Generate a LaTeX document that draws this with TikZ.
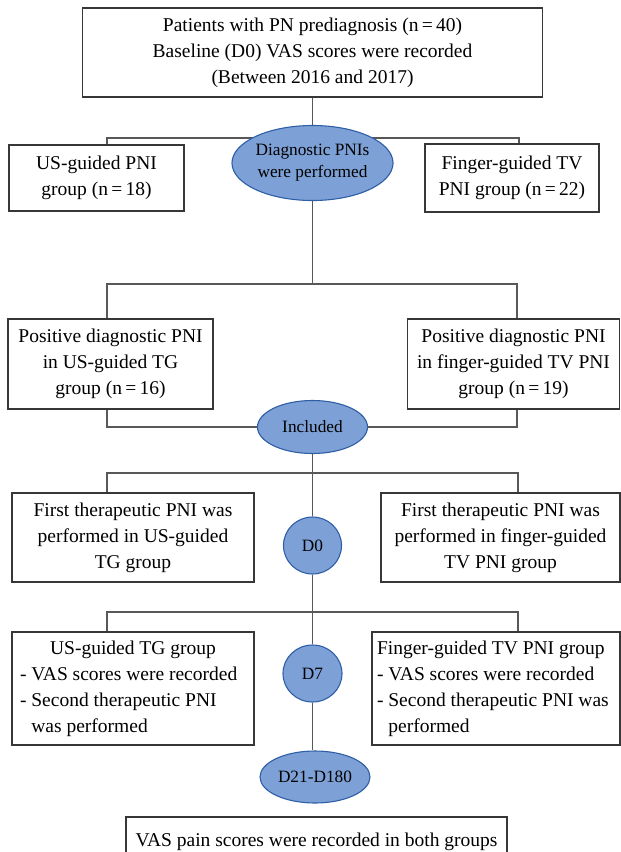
\documentclass[tikz,border=0pt]{standalone}
\usepackage{fontspec}
\setmainfont{Liberation Serif}
\usepackage{tikz}
\usetikzlibrary{shapes.geometric, positioning, backgrounds}

\definecolor{ovalfill}{RGB}{125,161,214}
\definecolor{ovaldraw}{RGB}{46,94,166}
\definecolor{linkgray}{RGB}{88,88,88}
\definecolor{boxgray}{RGB}{55,55,55}

\begin{document}
\begin{tikzpicture}[x=1pt, y=-1pt,
    box/.style={draw=boxgray, line width=1.1pt, fill=white, align=center, inner sep=0pt,
        font=\fontsize{19.5}{26}\selectfont},
    oval/.style={ellipse, draw=ovaldraw, line width=1.1pt, fill=ovalfill, align=center, inner sep=0pt,
        font=\fontsize{17.3}{22}\selectfont},
    link/.style={draw=linkgray, line width=1.1pt}]
    \useasboundingbox (0,0) rectangle (621,852);

    % Prediagnosis
    \node[box, minimum width=460, minimum height=89] (top) at (312.5,52.5)
        {Patients with PN prediagnosis (n\,=\,40)\\Baseline (D0) VAS scores were recorded\\(Between 2016 and 2017)};

    % Diagnostic PNIs
    \node[oval, minimum width=157, minimum height=75] (diag) at (312.5,163) {Diagnostic PNIs\\were performed};
    \node[box, minimum width=175, minimum height=66] (usg) at (96.5,178) {US-guided PNI\\group (n\,=\,18)};
    \node[box, minimum width=174, minimum height=68] (ftv) at (512,178) {Finger-guided TV\\PNI group (n\,=\,22)};

    % Positive diagnostic PNI
    \node[box, minimum width=205, minimum height=90] (posl) at (110.5,364)
        {Positive diagnostic PNI\\in US-guided TG\\group (n\,=\,16)};
    \node[box, minimum width=212, minimum height=90] (posr) at (513.5,364)
        {Positive diagnostic PNI\\in finger-guided TV PNI\\group (n\,=\,19)};
    \node[oval, minimum width=110, minimum height=53] (incl) at (312.5,427) {Included};

    % D0
    \node[oval, minimum width=58, minimum height=57] (d0) at (312.5,545.5) {D0};
    \node[box, minimum width=242, minimum height=89] (firstl) at (133,537.5)
        {First therapeutic PNI was\\performed in US-guided\\TG group};
    \node[box, minimum width=239, minimum height=89] (firstr) at (500.5,537.5)
        {First therapeutic PNI was\\performed in finger-guided\\TV PNI group};

    % D7
    \node[oval, minimum width=59, minimum height=57] (d7) at (312.5,673.5) {D7};
    \node[box, minimum width=242, minimum height=113, text width=226, align=flush left] (secl) at (133,688.5)
        {\makebox[\hsize]{US-guided TG group}\\- VAS scores were recorded\\- Second therapeutic PNI\\\hphantom{- }was performed};
    \node[box, minimum width=248, minimum height=113, text width=238, align=flush left] (secr) at (496,688.5)
        {Finger-guided TV PNI group\\- VAS scores were recorded\\- Second therapeutic PNI was\\\hphantom{- }performed};

    % D21-D180
    \node[oval, minimum width=110, minimum height=52] (d21) at (315,777) {D21-D180};
    \node[box, minimum width=381, minimum height=49] (final) at (316.5,841.5)
        {VAS pain scores were recorded in both groups};

    % connectors
    \begin{scope}[on background layer]
        \coordinate (j1l) at (107,138);  \coordinate (j1r) at (519,138);
        \coordinate (j2l) at (107,284);  \coordinate (j2r) at (517,284);
        \coordinate (j3l) at (107,473);  \coordinate (j3r) at (518,473);
        \coordinate (j4l) at (107,612);  \coordinate (j4r) at (518,612);

        \draw[link] (top) -- (diag);
        \draw[link] (j1l |- usg.north) -- (j1l) -- (j1r) -- (j1r |- ftv.north);

        \draw[link] (diag) -- (diag |- j2l);
        \draw[link] (j2l |- posl.north) -- (j2l) -- (j2r) -- (j2r |- posr.north);
        \draw[link] (j2l |- posl.south) |- (incl.west);
        \draw[link] (j2r |- posr.south) |- (incl.east);

        \draw[link] (incl) -- (d0);
        \draw[link] (j3l |- firstl.north) -- (j3l) -- (j3r) -- (j3r |- firstr.north);

        \draw[link] (d0) -- (d7);
        \draw[link] (j4l |- secl.north) -- (j4l) -- (j4r) -- (j4r |- secr.north);

        \draw[link] (d7.south) -- (d7.south |- d21.north);
    \end{scope}
\end{tikzpicture}
\end{document}
